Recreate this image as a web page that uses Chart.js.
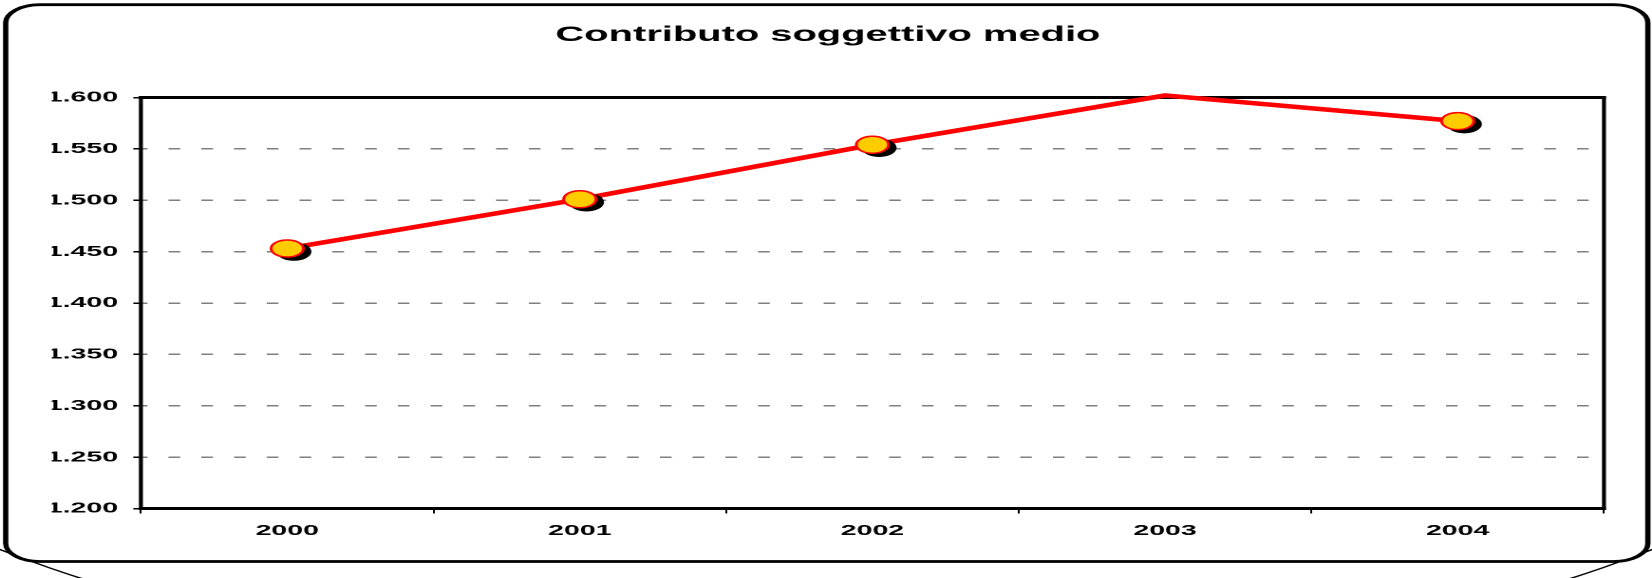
<!DOCTYPE html>
<html>
<head>
<meta charset="utf-8">
<title>Contributo soggettivo medio</title>
<script src="https://cdn.jsdelivr.net/npm/chart.js@4.4.1/dist/chart.umd.min.js"></script>
<style>
  html, body { margin: 0; padding: 0; background: #fff; overflow: hidden; }
  /* il grafico originale era stirato in orizzontale: lo disegno stretto e poi lo allargo */
  #wrap { width: 870px; height: 578px; transform: scaleX(1.89885); transform-origin: 0 0; }
</style>
</head>
<body>
<div id="wrap"><canvas id="grafico"></canvas></div>
<script>
// dati
const anni = ['2000', '2001', '2002', '2003', '2004'];
const contributoMedio = [1453, 1501, 1554, 1602, 1577];
const yTickLabels = ['1.200', '1.250', '1.300', '1.350', '1.400', '1.450', '1.500', '1.550', '1.600'];
const yMin = 1200;
const yMax = 1600;
const yStep = 50;
const titolo = 'Contributo soggettivo medio';

const FONT = '"Liberation Sans", Arial, sans-serif';

// cornice arrotondata, bordo dell'area del grafico e ombre dei marcatori
const cornice = {
    id: 'cornice',
    beforeDraw(chart) {
        const ctx = chart.ctx;
        const w = chart.width;
        ctx.save();
        ctx.strokeStyle = '#000';
        // ellisse che spunta sotto il riquadro (solo la parte bassa)
        ctx.save();
        ctx.beginPath();
        ctx.rect(0, 400, w, chart.height);
        ctx.clip();
        ctx.beginPath();
        ctx.ellipse(w / 2, 300, 578, 379, 0, 0, Math.PI * 2);
        ctx.lineWidth = 1.3;
        ctx.stroke();
        ctx.restore();
        // riquadro
        ctx.beginPath();
        ctx.roundRect(3, 4.7, w - 5.2, 556.8, 18);
        ctx.fillStyle = '#fff';
        ctx.fill();
        ctx.lineWidth = 2.8;
        ctx.stroke();
        ctx.restore();
    },
    beforeDatasetsDraw(chart) {
        const { ctx, chartArea: a } = chart;
        ctx.save();
        ctx.strokeStyle = '#000';
        ctx.lineWidth = 3;
        ctx.beginPath();
        ctx.moveTo(a.left - 1, a.top); ctx.lineTo(a.right + 1, a.top);
        ctx.moveTo(a.left - 1, a.bottom); ctx.lineTo(a.right + 1, a.bottom);
        ctx.stroke();
        ctx.lineWidth = 2.1;
        ctx.beginPath();
        ctx.moveTo(a.left, a.top - 1.5); ctx.lineTo(a.left, a.bottom + 1.5);
        ctx.moveTo(a.right, a.top - 1.5); ctx.lineTo(a.right, a.bottom + 1.5);
        ctx.stroke();
        ctx.restore();
    },
    beforeDatasetDraw(chart, args) {
        if (args.index !== 0) return;
        const ctx = chart.ctx;
        ctx.save();
        ctx.fillStyle = '#000';
        args.meta.data.forEach(el => {
            const r = el.options.radius;
            if (!r) return;
            ctx.beginPath();
            ctx.arc(el.x + 3.5, el.y + 3, r + el.options.borderWidth / 2, 0, Math.PI * 2);
            ctx.fill();
        });
        ctx.restore();
    }
};

new Chart(document.getElementById('grafico'), {
    type: 'line',
    data: {
        labels: anni,
        datasets: [
            {
                label: 'marcatori',
                data: contributoMedio,
                showLine: false,
                pointRadius: c => (c.raw > yMax ? 0 : 8.5),
                pointBackgroundColor: '#FFCC00',
                pointBorderColor: '#FF0000',
                pointBorderWidth: 1.5,
                clip: false
            },
            {
                label: 'linea',
                data: contributoMedio,
                borderColor: '#FF0000',
                borderWidth: 4.5,
                pointRadius: 0,
                tension: 0,
                fill: false,
                clip: false
            }
        ]
    },
    options: {
        responsive: true,
        maintainAspectRatio: false,
        devicePixelRatio: 2,
        animation: false,
        events: [],
        layout: { padding: { top: 10, left: 27.3, right: 25.3, bottom: 20 } },
        plugins: {
            legend: { display: false },
            tooltip: { enabled: false },
            title: {
                display: true,
                text: titolo,
                color: '#000',
                font: { family: FONT, size: 21, weight: 'bold' },
                padding: { top: 12.7, bottom: 49.6 }
            }
        },
        scales: {
            x: {
                offset: true,
                grid: {
                    offset: true,
                    drawOnChartArea: false,
                    drawTicks: true,
                    tickLength: 5,
                    tickColor: '#000',
                    tickWidth: 1
                },
                border: { display: false },
                ticks: {
                    color: '#000',
                    font: { family: FONT, size: 15, weight: 'bold' },
                    padding: 8.6,
                    maxRotation: 0
                },
                afterFit(s) { s.height = 49.5; }
            },
            y: {
                min: yMin,
                max: yMax,
                grid: {
                    color: '#808080',
                    lineWidth: 1.5,
                    tickLength: 4,
                    tickColor: '#000',
                    tickWidth: 1.5
                },
                border: { display: false, dash: [6.15, 11.1], dashOffset: 2.5 },
                ticks: {
                    stepSize: yStep,
                    padding: 8,
                    color: '#000',
                    font: { family: FONT, size: 15, weight: 'bold' },
                    callback: (v, i) => yTickLabels[i]
                },
                afterFit(s) { s.width = 46.9; }
            }
        }
    },
    plugins: [cornice]
});
</script>
</body>
</html>
